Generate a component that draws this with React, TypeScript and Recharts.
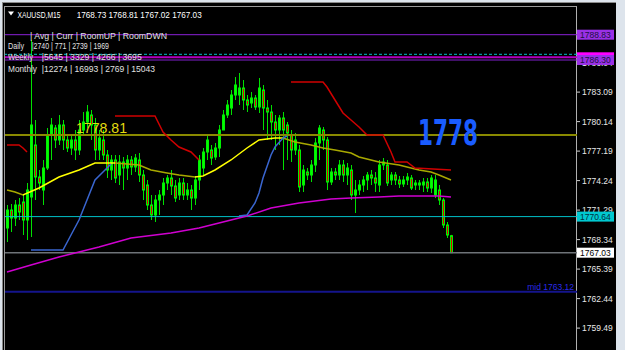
import React from 'react';
import { ComposedChart, Bar, Line, XAxis, YAxis, ReferenceLine } from 'recharts';

const SLOTS = 143;

const opens = [
  1769.5, 1771.3, 1770.5, 1771.8, 1772.1, 1770.3, 1772.6, 1777.8, 1774.6, 1773.3,
  1775.5, 1778.8, 1779.5, 1778.3, 1779.8, 1778.3, 1777.5, 1778.3, 1777.3, 1779.3,
  1780.1, 1780.8, 1779.8, 1777.3, 1778.3, 1776.8, 1775.3, 1776.3, 1774.8, 1776.1,
  1775.5, 1776.3, 1775.6, 1776.3, 1774.8, 1773.8, 1771.8, 1770.8, 1772.3, 1772.8,
  1774.0, 1774.5, 1773.7, 1772.8, 1774.0, 1772.8, 1773.3, 1772.5, 1774.3, 1775.5,
  1777.1, 1777.3, 1776.6, 1777.5, 1779.3, 1780.8, 1781.5, 1782.8, 1782.8, 1783.5,
  1782.3, 1782.0, 1782.5, 1781.6, 1783.3, 1781.5, 1781.1, 1780.1, 1779.3, 1780.5,
  1779.8, 1778.8, 1777.3, 1777.3, 1773.8, 1775.1, 1774.8, 1775.8, 1778.0, 1779.3,
  1778.3, 1774.1, 1775.1, 1774.8, 1775.8, 1774.8, 1775.3, 1772.8, 1773.3, 1773.8,
  1774.3, 1774.8, 1774.5, 1773.8, 1775.8, 1775.8, 1774.3, 1774.8, 1774.3, 1773.9,
  1774.3, 1774.5, 1773.8, 1774.0, 1773.8, 1774.1, 1773.5, 1772.8, 1773.3, 1772.3,
  1769.8, 1768.73,
];
const closes = [
  1771.3, 1770.5, 1771.8, 1771.1, 1770.3, 1773.3, 1779.8, 1774.6, 1774.0, 1775.5,
  1778.8, 1779.8, 1778.3, 1779.8, 1778.3, 1777.5, 1778.3, 1777.3, 1779.3, 1780.1,
  1781.1, 1779.8, 1777.3, 1778.5, 1776.8, 1775.3, 1776.3, 1774.5, 1776.1, 1775.5,
  1776.3, 1775.6, 1776.5, 1774.8, 1773.3, 1771.8, 1770.8, 1772.3, 1772.8, 1774.0,
  1774.5, 1773.7, 1772.5, 1774.0, 1772.8, 1773.3, 1772.5, 1774.3, 1776.3, 1777.1,
  1778.3, 1776.5, 1777.5, 1779.3, 1780.8, 1781.8, 1782.8, 1783.8, 1783.5, 1782.3,
  1781.8, 1782.5, 1781.6, 1783.5, 1781.5, 1781.1, 1780.1, 1779.3, 1780.5, 1779.3,
  1779.0, 1777.3, 1778.3, 1773.6, 1775.3, 1774.8, 1775.8, 1778.0, 1779.5, 1778.3,
  1774.1, 1775.1, 1774.8, 1775.8, 1774.8, 1775.5, 1772.8, 1773.3, 1773.8, 1774.3,
  1774.8, 1774.5, 1774.0, 1775.8, 1776.1, 1774.0, 1774.8, 1774.3, 1773.9, 1774.3,
  1774.6, 1773.5, 1774.0, 1773.8, 1774.1, 1773.5, 1774.5, 1774.3, 1772.3, 1769.8,
  1768.8, 1767.03,
];
const highs = [
  1771.8, 1771.9, 1772.3, 1772.5, 1772.8, 1774.0, 1788.3, 1780.3, 1775.3, 1776.3,
  1779.5, 1780.5, 1779.8, 1780.8, 1780.3, 1778.8, 1778.8, 1779.3, 1780.3, 1781.1,
  1781.8, 1781.3, 1780.5, 1779.3, 1779.3, 1777.3, 1776.8, 1776.8, 1776.8, 1776.6,
  1776.8, 1776.7, 1776.9, 1777.0, 1775.3, 1774.3, 1772.8, 1772.8, 1773.3, 1774.5,
  1774.8, 1775.3, 1774.3, 1774.5, 1774.5, 1774.0, 1773.8, 1774.7, 1776.8, 1777.5,
  1778.8, 1777.8, 1778.0, 1779.8, 1781.3, 1782.3, 1783.3, 1784.6, 1785.0, 1784.3,
  1782.8, 1783.1, 1782.8, 1784.5, 1783.8, 1782.3, 1781.8, 1780.8, 1780.8, 1781.1,
  1780.1, 1779.3, 1779.0, 1777.8, 1775.8, 1775.5, 1776.3, 1778.5, 1779.8, 1779.6,
  1778.6, 1775.5, 1775.5, 1776.3, 1776.3, 1776.0, 1775.8, 1774.3, 1774.3, 1774.7,
  1775.1, 1775.3, 1775.1, 1776.3, 1776.5, 1776.3, 1775.1, 1775.1, 1774.7, 1774.7,
  1775.0, 1774.8, 1774.3, 1774.3, 1774.5, 1774.5, 1774.8, 1774.8, 1773.8, 1772.5,
  1770.1, 1768.81,
];
const lows = [
  1768.1, 1769.1, 1769.7, 1770.3, 1768.8, 1768.3, 1768.6, 1772.3, 1773.3, 1771.8,
  1775.3, 1776.3, 1777.5, 1777.8, 1777.3, 1777.1, 1776.8, 1776.3, 1776.8, 1778.8,
  1779.5, 1778.3, 1776.3, 1776.3, 1776.3, 1774.5, 1774.3, 1774.0, 1773.8, 1773.3,
  1774.3, 1774.8, 1775.1, 1774.1, 1772.3, 1771.3, 1770.3, 1770.1, 1770.8, 1771.8,
  1773.3, 1772.8, 1772.1, 1772.3, 1772.3, 1772.3, 1771.3, 1771.8, 1773.3, 1774.8,
  1776.3, 1775.8, 1776.3, 1776.6, 1779.3, 1780.5, 1780.8, 1782.3, 1781.8, 1781.3,
  1781.1, 1781.5, 1781.3, 1781.0, 1779.3, 1778.3, 1778.3, 1777.3, 1777.8, 1775.3,
  1776.3, 1776.1, 1776.8, 1773.1, 1773.1, 1774.3, 1774.1, 1775.1, 1776.3, 1777.3,
  1773.3, 1773.8, 1774.3, 1774.3, 1774.1, 1773.8, 1772.3, 1771.0, 1772.8, 1773.1,
  1773.3, 1773.8, 1773.1, 1773.1, 1775.3, 1773.7, 1773.8, 1773.8, 1773.5, 1773.6,
  1773.8, 1773.3, 1773.3, 1773.3, 1773.1, 1773.1, 1773.0, 1772.5, 1771.8, 1769.5,
  1768.5, 1767.02,
];

const yellowMA: [number, number][] = [
  [0, 1773.3], [2, 1773.1], [4, 1772.8], [8, 1773.5], [13, 1774.6], [18, 1775.3], [22, 1776.0],
  [27, 1776.0], [33, 1775.8], [36, 1775.3], [40, 1775.0], [43, 1774.8], [47, 1774.6], [49, 1774.7],
  [52, 1775.3], [56, 1776.3], [60, 1777.5], [63, 1778.3], [67, 1778.5], [69, 1778.5], [72, 1778.1],
  [76, 1777.8], [79, 1777.5], [82, 1777.3], [86, 1777.0], [88, 1776.6], [93, 1776.1], [98, 1775.8],
  [103, 1775.3], [106, 1775.1], [108, 1774.8], [111, 1774.3],
];
const magentaMA: [number, number][] = [
  [0, 1765.1], [6, 1765.8], [13, 1766.6], [23, 1767.6], [31, 1768.5], [41, 1769.0], [48, 1769.5],
  [52, 1769.9], [60, 1770.7], [66, 1771.5], [73, 1772.0], [81, 1772.4], [86, 1772.5], [93, 1772.6],
  [98, 1772.7], [108, 1772.7], [111, 1772.6],
];
const blueA: [number, number][] = [
  [6, 1767.3], [14, 1767.3], [16, 1768.8], [18, 1770.3], [20, 1772.3], [22, 1774.3], [24, 1775.1], [26, 1775.9],
];
const blueB: [number, number][] = [
  [58, 1770.7], [60, 1770.8], [62, 1772.0], [63, 1773.0], [64, 1774.5], [66, 1776.8], [67, 1777.6], [69, 1778.5], [70, 1778.7],
];
const redA: [number, number][] = [[0, 1777.8], [3, 1777.8], [4, 1777.5], [5, 1777.1]];
const redB: [number, number][] = [
  [27, 1780.7], [37, 1780.7], [39, 1779.1], [41, 1778.3], [43, 1777.6], [46, 1777.1], [48, 1776.3],
];
const redC: [number, number][] = [
  [71, 1784.1], [79, 1784.1], [80, 1783.6], [82, 1782.3], [84, 1781.0], [86, 1780.3], [88, 1779.6],
  [90, 1778.8], [94, 1778.8], [96, 1777.1], [97, 1776.1], [100, 1776.1], [102, 1775.5], [111, 1775.3],
];

const priceTicks = [1759.49, 1762.44, 1765.39, 1768.34, 1771.29, 1774.24, 1777.19, 1780.14, 1783.09, 1786.04];
const priceDomain = [1757.3, 1791.6];

const topLevel = 1788.83;
const dashLevel = 1786.87;
const magentaLevel = 1786.57;
const purpleLevel = 1786.3;
const oliveLevel = 1778.81;
const cyanLevel = 1770.64;
const bidLevel = 1767.03;
const midLevel = 1763.12;

const headerSymbol = 'XAUUSD,M15';
const headerOHLC = '1768.73 1768.81 1767.02 1767.03';
const tableHeader = '| Avg | Curr | RoomUP | RoomDWN';
const tableNames = ['Daily', 'Weekly', 'Monthly'];
const tableValues = ['|2740 | 771 | 2739 | 1969', '|5645 | 3329 | 4266 | 3695', '|12274 | 16993 | 2769 | 15043'];
const handNote = '1778';

const FONT = 'Liberation Sans, Arial, sans-serif';
const MARGIN = { top: 7, right: 0, left: 5, bottom: 0 };

function toSeries(pairs: [number, number][]) {
  const arr: (number | null)[] = new Array(SLOTS).fill(null);
  pairs.forEach(([i, v]) => { arr[i] = v; });
  return arr;
}
const ySer = toSeries(yellowMA);
const mSer = toSeries(magentaMA);
const bASer = toSeries(blueA);
const bBSer = toSeries(blueB);
const rASer = toSeries(redA);
const rBSer = toSeries(redB);
const rCSer = toSeries(redC);

const data = Array.from({ length: SLOTS }, (_, i) => {
  const has = i < opens.length;
  return {
    i,
    range: has ? [lows[i], highs[i]] : null,
    o: has ? opens[i] : null,
    c: has ? closes[i] : null,
    h: has ? highs[i] : null,
    l: has ? lows[i] : null,
    yellow: ySer[i], magenta: mSer[i], blueA: bASer[i], blueB: bBSer[i],
    redA: rASer[i], redB: rBSer[i], redC: rCSer[i],
  };
});

const yFirst = yellowMA[0][0];
const yLast = yellowMA[yellowMA.length - 1][0];
const yStops: { off: number; color: string }[] = [];
for (let k = 1; k < yellowMA.length; k++) {
  const [ia, va] = yellowMA[k - 1];
  const [ib, vb] = yellowMA[k];
  const color = vb >= va ? '#FFFF00' : '#A8A800';
  yStops.push({ off: (ia - yFirst) / (yLast - yFirst), color });
  yStops.push({ off: (ib - yFirst) / (yLast - yFirst), color });
}

const Candle = (props: any) => {
  const { x, y, width, height, payload } = props;
  if (!payload || payload.o == null || height == null) return null;
  const { o, c, h, l } = payload;
  const top = Math.min(y, y + height);
  const hh = Math.abs(height);
  const k = hh / (h - l);
  const py = (p: number) => top + (h - p) * k;
  const cx = Math.floor(x + width / 2);
  const bTop = py(Math.max(o, c));
  const bBot = py(Math.min(o, c));
  const bull = c >= o;
  return (
    <g>
      <line x1={cx + 0.5} x2={cx + 0.5} y1={top} y2={top + hh} stroke="#00E000" strokeWidth={1} />
      <rect x={cx - 0.5} y={bTop} width={2} height={Math.max(1, bBot - bTop)}
        fill={bull ? '#00FF00' : '#E00000'} stroke="#00F000" strokeWidth={1} />
    </g>
  );
};

const PriceTick = (props: any) => {
  const { x, y, payload } = props;
  return (
    <g>
      <line x1={x} x2={x + 3} y1={y} y2={y} stroke="#D0D0D0" />
      <text x={x + 5} y={y + 3} fontSize={8.5} fill="#E8E8E8" fontFamily={FONT}>{payload.value.toFixed(2)}</text>
    </g>
  );
};

const Tag = (props: any) => {
  const { viewBox, value, bg, fg } = props;
  if (!viewBox) return null;
  const x = viewBox.x + viewBox.width;
  const y = viewBox.y;
  return (
    <g>
      <rect x={x} y={y - 5} width={37} height={10} fill={bg} />
      <text x={x + 3} y={y + 3.3} fontSize={8.5} fill={fg} fontFamily={FONT}>{value.toFixed(2)}</text>
    </g>
  );
};

const OliveText = (props: any) => {
  const { viewBox } = props;
  if (!viewBox) return null;
  return (
    <text x={viewBox.x + 71} y={viewBox.y - 2} fontSize={14.5} fill="#E4DC10" fontFamily={FONT} textLength={51} lengthAdjust="spacingAndGlyphs">
      {oliveLevel.toFixed(2)}
    </text>
  );
};

const MidText = (props: any) => {
  const { viewBox } = props;
  if (!viewBox) return null;
  return (
    <text x={viewBox.x + viewBox.width - 3} y={viewBox.y - 2} textAnchor="end" fontSize={8.5} fill="#2A2AE8" fontFamily={FONT}>
      {'mid ' + midLevel.toFixed(2)}
    </text>
  );
};

const lineProps = { type: 'linear' as const, dot: false, activeDot: false, connectNulls: true, isAnimationActive: false };

export default function App() {
  const rowY = [49, 59.5, 72];
  const rowX = [31.7, 41.7, 41.7];
  const rowEnd = [109, 141.7, 155];
  const nameLen = [16, 25, 29];
  return (
    <div style={{ position: 'absolute', left: 0, top: 0, width: 625, height: 350, background: '#DDE4EC', overflow: 'hidden' }}>
      <div style={{ position: 'absolute', left: 2, top: 2, width: 613, height: 348, background: '#000', borderLeft: '1px solid #8A8A8A', borderTop: '1px solid #8A8A8A' }} />
      <div style={{ position: 'absolute', left: 4, top: 6, width: 571, height: 360, borderLeft: '1px solid #9A9A9A', borderTop: '1px solid #9A9A9A', borderRight: '1px solid #B0B0B0' }} />
      <div style={{ position: 'absolute', left: 0, top: 0 }}>
        <ComposedChart width={625} height={350} data={data} margin={MARGIN}>
          <defs>
            <linearGradient id="maGrad" x1="0" y1="0" x2="1" y2="0">
              {yStops.map((s, idx) => <stop key={idx} offset={s.off} stopColor={s.color} />)}
            </linearGradient>
          </defs>
          <XAxis dataKey="i" type="category" hide />
          <YAxis orientation="right" width={48} type="number" domain={priceDomain} ticks={priceTicks} interval={0}
            allowDataOverflow axisLine={false} tickLine={false} tickSize={0} tickMargin={0} tick={<PriceTick />} />
          <ReferenceLine y={midLevel} stroke="#14148C" strokeWidth={2} label={<MidText />} />
          <ReferenceLine y={bidLevel} stroke="#6E7378" strokeWidth={1.5} />
          <ReferenceLine y={cyanLevel} stroke="#00C0C8" strokeWidth={1} />
          <ReferenceLine y={oliveLevel} stroke="#8A8A00" strokeWidth={2} label={<OliveText />} />
          <ReferenceLine y={dashLevel} stroke="#00C0C8" strokeWidth={1} strokeDasharray="3 2" />
          <ReferenceLine y={magentaLevel} stroke="#B000C0" strokeWidth={2} />
          <ReferenceLine y={purpleLevel} stroke="#8020D0" strokeWidth={1} />
          <ReferenceLine y={topLevel} stroke="#8A20D8" strokeWidth={1} />
          <Bar dataKey="range" barSize={3} isAnimationActive={false} shape={(p: any) => <Candle {...p} />} />
          <Line dataKey="magenta" stroke="#D000D0" strokeWidth={1.5} {...lineProps} />
          <Line dataKey="yellow" stroke="url(#maGrad)" strokeWidth={1.5} {...lineProps} />
          <Line dataKey="blueA" stroke="#3A66D0" strokeWidth={1.5} {...lineProps} />
          <Line dataKey="blueB" stroke="#3A66D0" strokeWidth={1.5} {...lineProps} />
          <Line dataKey="redA" stroke="#D00000" strokeWidth={1.5} {...lineProps} />
          <Line dataKey="redB" stroke="#D00000" strokeWidth={1.5} {...lineProps} />
          <Line dataKey="redC" stroke="#D00000" strokeWidth={1.5} {...lineProps} />
        </ComposedChart>
      </div>
      <div style={{ position: 'absolute', left: 0, top: 0 }}>
        <ComposedChart width={625} height={350} data={data} margin={MARGIN}>
          <XAxis dataKey="i" type="category" hide />
          <YAxis orientation="right" width={48} type="number" domain={priceDomain} ticks={priceTicks}
            allowDataOverflow axisLine={false} tickLine={false} tick={false} />
          <ReferenceLine y={bidLevel} strokeOpacity={0} label={<Tag value={bidLevel} bg="#FFFFFF" fg="#000000" />} />
          <ReferenceLine y={cyanLevel} strokeOpacity={0} label={<Tag value={cyanLevel} bg="#00C8D0" fg="#003040" />} />
          <ReferenceLine y={magentaLevel} strokeOpacity={0} label={<Tag value={magentaLevel} bg="#FF00FF" fg="#400040" />} />
          <ReferenceLine y={purpleLevel} strokeOpacity={0} label={<Tag value={purpleLevel} bg="#9A30E6" fg="#1A1040" />} />
          <ReferenceLine y={topLevel} strokeOpacity={0} label={<Tag value={topLevel} bg="#9A30E6" fg="#1A1040" />} />
        </ComposedChart>
      </div>
      <svg width={625} height={350} style={{ position: 'absolute', left: 0, top: 0, pointerEvents: 'none' }}>
        <polygon points="8,11.5 14,11.5 11,15.5" fill="#FFFFFF" />
        <text x={17.5} y={17.5} fontSize={9.5} fill="#FFFFFF" fontFamily={FONT} textLength={43} lengthAdjust="spacingAndGlyphs">{headerSymbol}</text>
        <text x={76.7} y={17.5} fontSize={9.5} fill="#FFFFFF" fontFamily={FONT} textLength={125} lengthAdjust="spacingAndGlyphs">{headerOHLC}</text>
        <text x={30} y={39} fontSize={9.5} fill="#E0E0E0" fontFamily={FONT} textLength={137} lengthAdjust="spacingAndGlyphs">{tableHeader}</text>
        {tableNames.map((n, k) => (
          <g key={n}>
            <text x={8} y={rowY[k]} fontSize={9.5} fill="#E0E0E0" fontFamily={FONT} textLength={nameLen[k]} lengthAdjust="spacingAndGlyphs">{n}</text>
            <text x={rowX[k]} y={rowY[k]} fontSize={9.5} fill="#E0E0E0" fontFamily={FONT} textLength={rowEnd[k] - rowX[k]} lengthAdjust="spacingAndGlyphs">{tableValues[k]}</text>
          </g>
        ))}
        <text x={418} y={145} fontSize={36} fill="#1A5CFF" fontFamily="DejaVu Sans, sans-serif" fontWeight="bold" textLength={60} lengthAdjust="spacingAndGlyphs">{handNote}</text>
      </svg>
    </div>
  );
}
